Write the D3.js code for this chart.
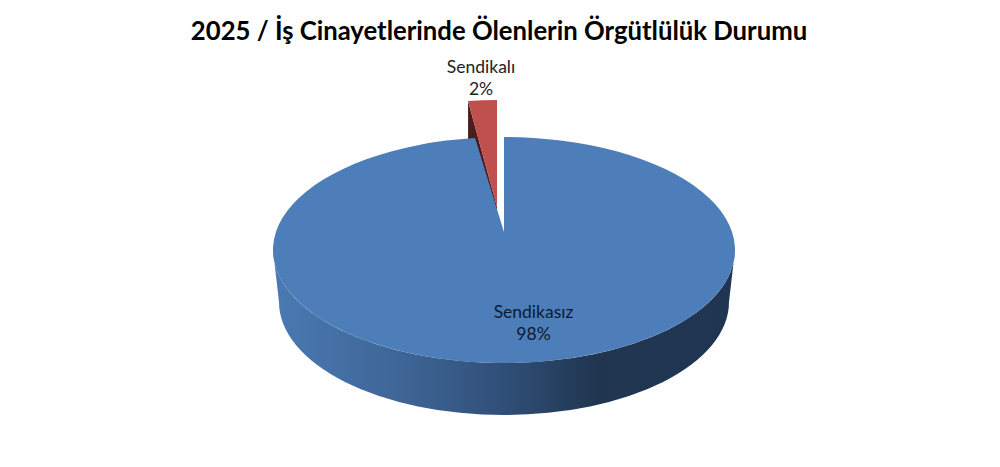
<!DOCTYPE html>
<html>
<head>
<meta charset="utf-8">
<script src="https://cdn.jsdelivr.net/npm/d3@7"></script>
<style>
  html, body { margin: 0; padding: 0; background: #fff; }
  svg { display: block; }
  text { font-family: Lato, "Open Sans", sans-serif; }
</style>
</head>
<body>
<script>
// chart data
const titleText = "2025 / İş Cinayetlerinde Ölenlerin Örgütlülük Durumu";
const categories = ["Sendikasız", "Sendikalı"];
const values = [98, 2];
const percentLabels = ["98%", "2%"];

const width = 1000;
const height = 467;

const svg = d3.select("body").append("svg")
    .attr("width", width)
    .attr("height", height);

// geometry of the tilted pie
const top3d = { cx: 504, cy: 250, rx: 231, ry: 113, apexY: 232 };
const bottom3d = { cx: 504, cy: 302, rx: 225, ry: 113 };
const explode = { dx: -7, dy: -37, apexY: 207 };

// unit circle -> page
const xTop = d3.scaleLinear().domain([-1, 1]).range([top3d.cx - top3d.rx, top3d.cx + top3d.rx]);
const yTop = d3.scaleLinear().domain([-1, 1]).range([top3d.cy - top3d.ry, top3d.cy + top3d.ry]);

// clockwise from 12 o'clock, same as the original
const slices = d3.pie().sort(null)(values);

function rimPoint(angle, dx, dy) {
    return [xTop(Math.sin(angle)) + dx, yTop(-Math.cos(angle)) + dy];
}

function slicePath(d, dx, dy, apexY) {
    const a = rimPoint(d.startAngle, dx, dy);
    const b = rimPoint(d.endAngle, dx, dy);
    const large = d.endAngle - d.startAngle > Math.PI ? 1 : 0;
    return "M" + (top3d.cx + dx) + "," + apexY +
        "L" + a + "A" + top3d.rx + "," + top3d.ry + " 0 " + large + " 1 " + b + "Z";
}

// side wall shading
const grad = svg.append("defs").append("linearGradient")
    .attr("id", "wall")
    .attr("gradientUnits", "userSpaceOnUse")
    .attr("x1", top3d.cx - top3d.rx).attr("x2", top3d.cx + top3d.rx)
    .attr("y1", 0).attr("y2", 0);
grad.append("stop").attr("offset", "0").attr("stop-color", "#4a7ab3");
grad.append("stop").attr("offset", "0.28").attr("stop-color", "#3e6595");
grad.append("stop").attr("offset", "0.5").attr("stop-color", "#304f78");
grad.append("stop").attr("offset", "0.7").attr("stop-color", "#203650");
grad.append("stop").attr("offset", "1").attr("stop-color", "#1f3552");

// blue wall
svg.append("path")
    .attr("d", "M" + (top3d.cx - top3d.rx) + "," + top3d.cy +
        "A" + top3d.rx + "," + top3d.ry + " 0 0 0 " + (top3d.cx + top3d.rx) + "," + top3d.cy +
        "L" + (bottom3d.cx + bottom3d.rx) + "," + bottom3d.cy +
        "A" + bottom3d.rx + "," + bottom3d.ry + " 0 0 1 " + (bottom3d.cx - bottom3d.rx) + "," + bottom3d.cy + "Z")
    .attr("fill", "url(#wall)");

// exploded red slice, dark inner face first
const red = slices[1];
const redLeft = rimPoint(red.startAngle, explode.dx, explode.dy);
const redApex = [top3d.cx + explode.dx, explode.apexY];
svg.append("path")
    .attr("d", d3.line()([redLeft, [redLeft[0], redLeft[1] + 52], [redApex[0], redApex[1] + 34], redApex]))
    .attr("fill", "#4a1c1b");
svg.append("path")
    .attr("d", slicePath(red, explode.dx, explode.dy, explode.apexY))
    .attr("fill", "#c0504d");

// blue top face
svg.append("path")
    .attr("d", slicePath(slices[0], 0, 0, top3d.apexY))
    .attr("fill", "#4d7eb9");

// title
svg.append("text")
    .attr("x", 499)
    .attr("y", 40)
    .attr("text-anchor", "middle")
    .attr("font-size", 25.7)
    .attr("font-weight", 700)
    .attr("fill", "#000")
    .text(titleText);

// labels
const labelPos = [[533.5, 318], [481, 73]];
categories.forEach(function (c, i) {
    const g = svg.append("text")
        .attr("text-anchor", "middle")
        .attr("font-size", 17.5)
        .attr("fill", i === 0 ? "#0c1a33" : "#222");
    g.append("tspan").attr("x", labelPos[i][0]).attr("y", labelPos[i][1]).text(c);
    g.append("tspan").attr("x", labelPos[i][0]).attr("y", labelPos[i][1] + 22).text(percentLabels[i]);
});
</script>
</body>
</html>
